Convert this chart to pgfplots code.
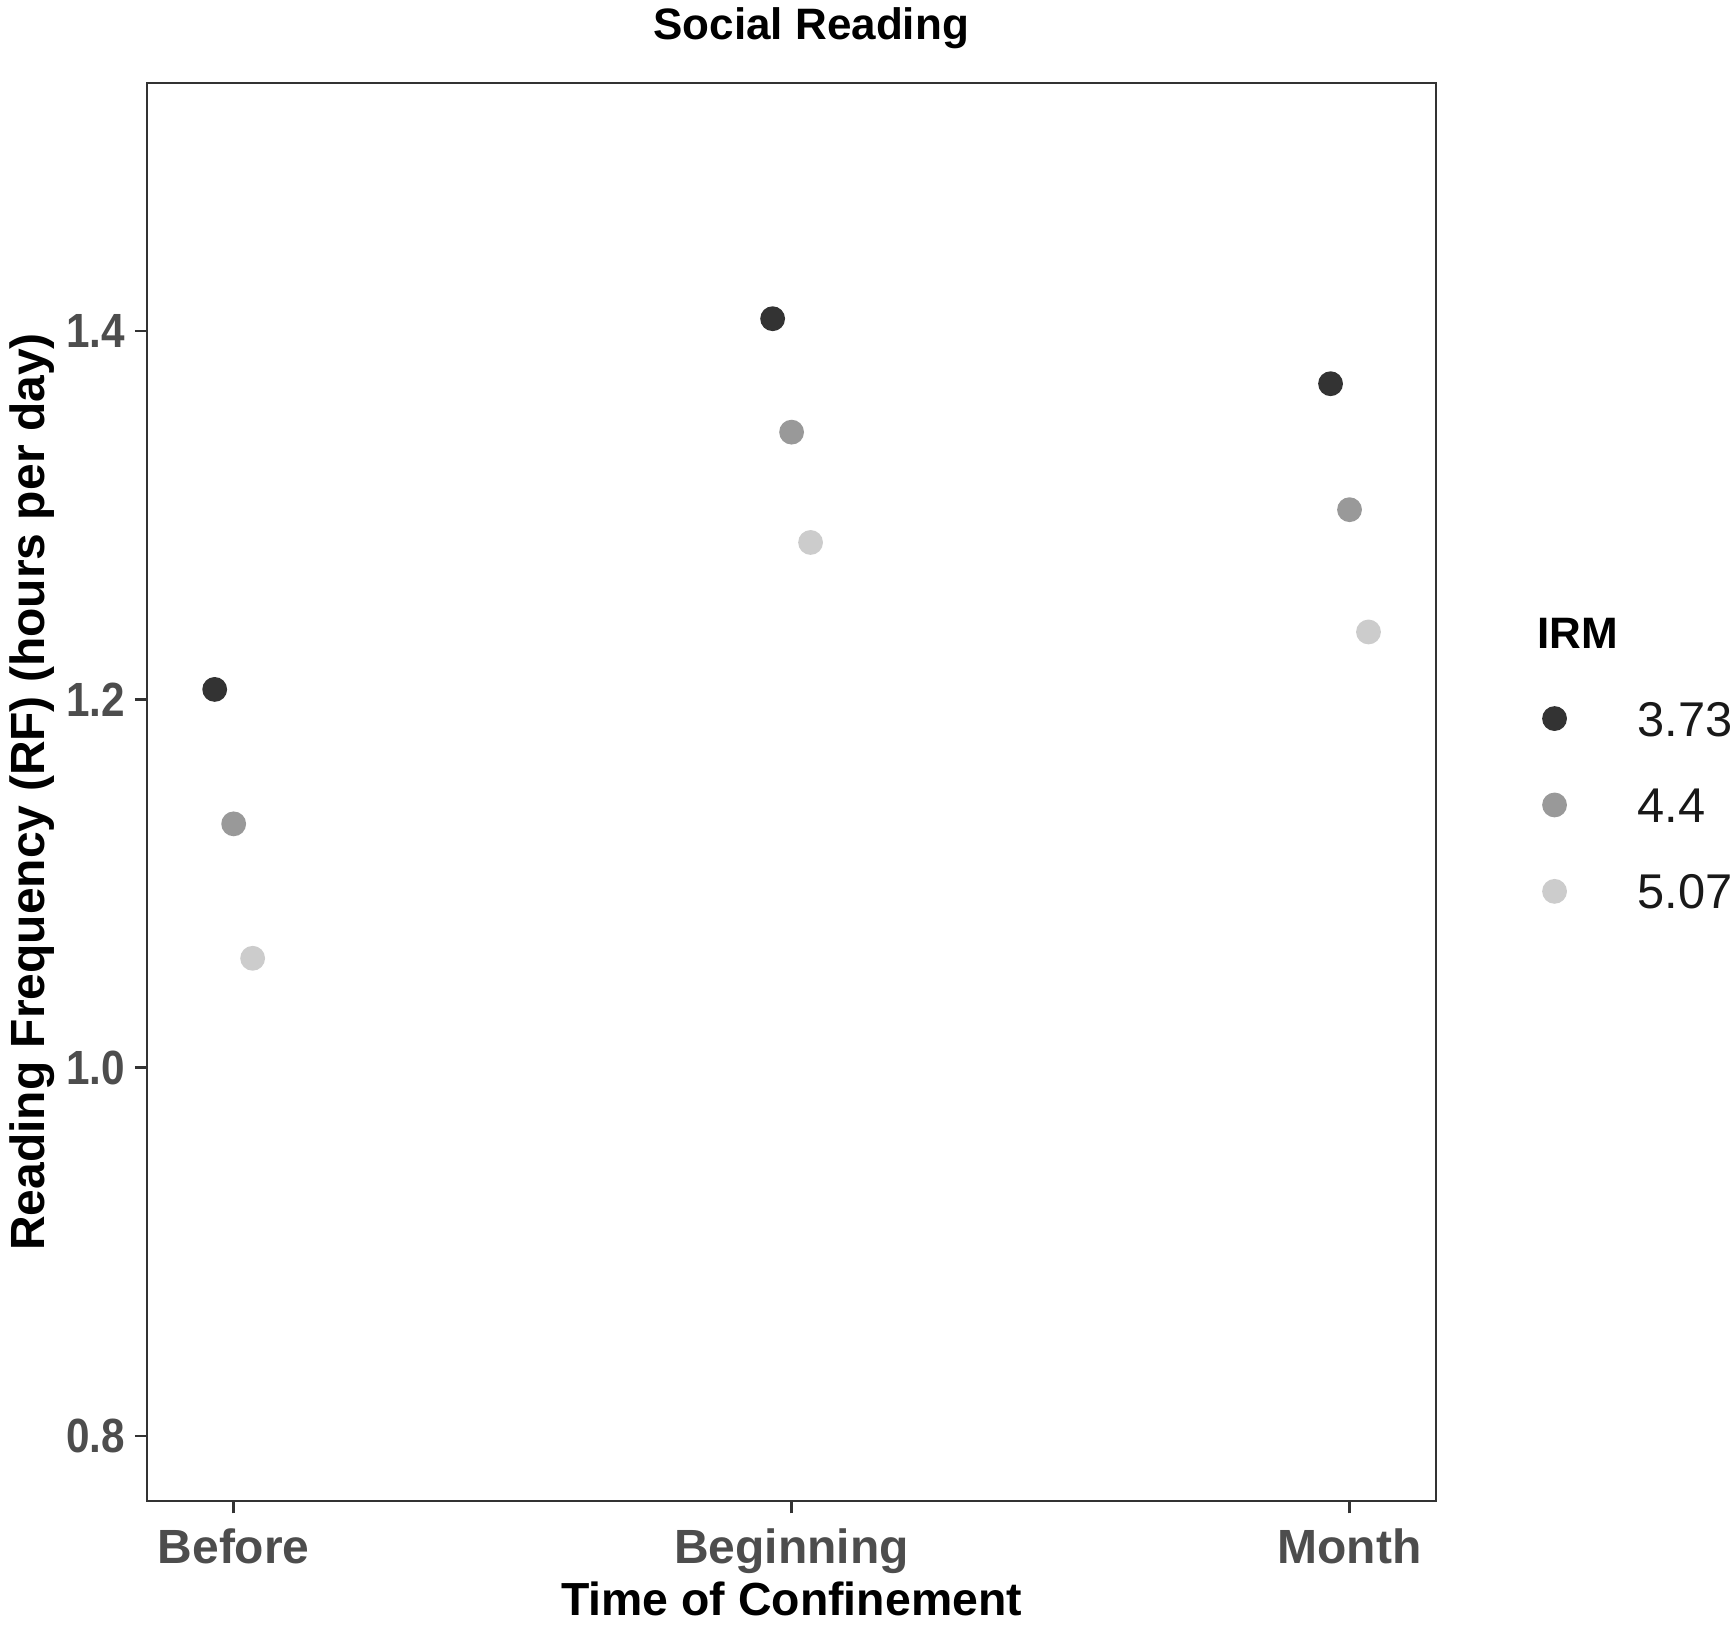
\documentclass[border=0pt]{standalone}
\usepackage{fontspec}
\setmainfont{Liberation Sans}
\newfontfamily\narrowfont{Liberation Sans}[FakeStretch=0.88]
\usepackage{pgfplots}
\pgfplotsset{compat=1.18}
\definecolor{c1}{HTML}{333333}
\definecolor{c2}{HTML}{999999}
\definecolor{c3}{HTML}{CCCCCC}
\definecolor{tickgrey}{HTML}{4D4D4D}
\definecolor{axisgrey}{HTML}{333333}
\pgfplotsset{
  pts/.style={only marks, mark=*, mark size=2.9pt, mark options={draw=none, fill=#1}, color=#1,
    legend image code/.code={\draw[##1] plot coordinates {(0pt,0pt)};}},
}
\begin{document}
\begin{tikzpicture}
\useasboundingbox (-36.8pt,-31.98pt) rectangle (397.2pt,375.25pt);
\begin{axis}[
  at={(0pt,0pt)}, anchor=south west,
  scale only axis, width=322.2pt, height=354.5pt,
  xmin=-0.155, xmax=2.155, ymin=0.7647, ymax=1.5347,
  xtick={0,1,2}, xticklabels={Before,Beginning,Month},
  ytick={0.8,1.0,1.2,1.4},
  yticklabels={0.8,1.0,1.2,1.4},
  axis line style={axisgrey, line width=0.6pt},
  tick style={axisgrey, line width=0.6pt},
  major tick length=3.1pt, tick align=outside,
  xtick pos=left, ytick pos=left,
  ticklabel style={text=tickgrey, inner sep=0pt},
  yticklabel style={anchor=east, xshift=-2.2pt, font=\fontsize{12}{14}\narrowfont\bfseries},
  xticklabel style={anchor=base, yshift=-12.5pt, font=\fontsize{12}{14}\selectfont\bfseries},
  xlabel={Time of Confinement},
  ylabel={Reading Frequency (RF) (hours per day)},
  xlabel style={at={(axis description cs:0.5,0)}, anchor=base, yshift=-28.6pt, inner sep=0pt,
    font=\fontsize{11.6}{13}\selectfont\bfseries},
  ylabel style={at={([xshift=-25.55pt]axis description cs:0,0.5)}, anchor=base, inner sep=0pt,
    font=\fontsize{12}{14}\selectfont\bfseries},
  legend style={at={(axis description cs:1.0830,0.5642)}, anchor=north west, draw=none, fill=none,
    inner sep=0pt, outer sep=0pt, column sep=17.8pt, row sep=12.8pt,
    nodes={inner sep=0pt, text height=8.8pt, text depth=0pt, font=\fontsize{12.2}{14}\selectfont, text=black!90}},
  legend cell align=left,
]
\addplot[pts=c1] coordinates {(-0.034,1.2054) (0.966,1.4067) (1.966,1.3714)};
\addlegendentry{3.73}
\addplot[pts=c2] coordinates {(0,1.1324) (1,1.3451) (2,1.3030)};
\addlegendentry{4.4}
\addplot[pts=c3] coordinates {(0.034,1.0594) (1.034,1.2852) (2.034,1.2366)};
\addlegendentry{5.07}
\end{axis}
\node[anchor=base, font=\fontsize{11}{13}\selectfont\bfseries] at (166pt,365.25pt) {Social Reading};
\node[anchor=base west, inner sep=0pt, font=\fontsize{11}{13}\selectfont\bfseries] at (347.4pt,213pt) {IRM};
\end{tikzpicture}
\end{document}
